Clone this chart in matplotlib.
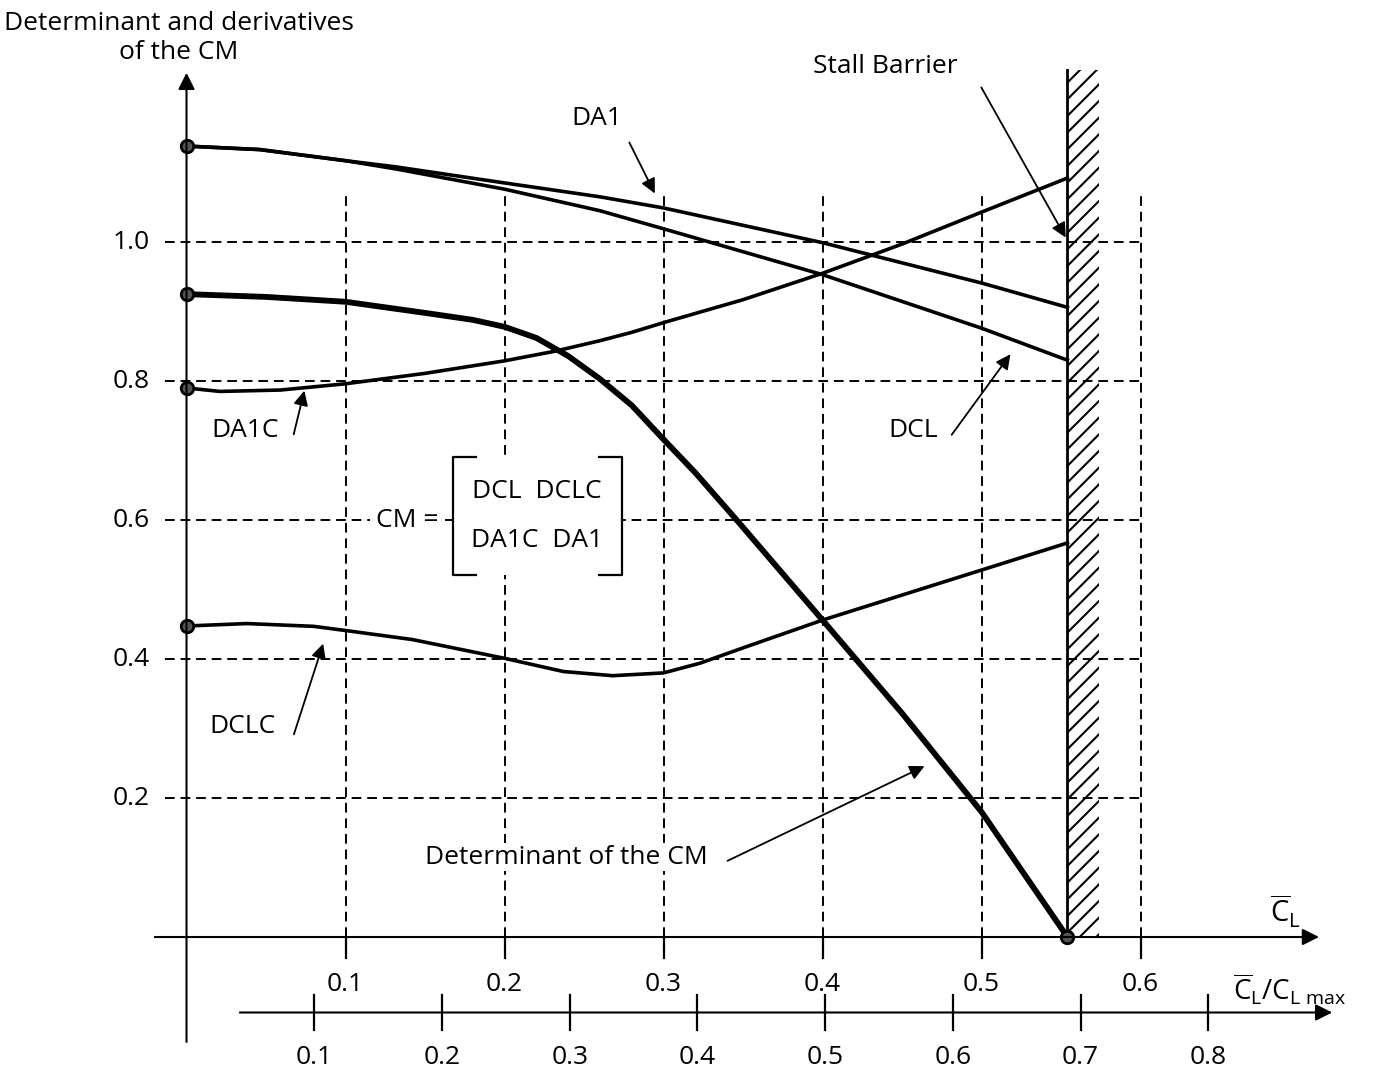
import numpy as np
import matplotlib
matplotlib.use('Agg')
import matplotlib.pyplot as plt
from matplotlib.patches import Rectangle

plt.rcParams['font.family'] = ['Open Sans', 'DejaVu Sans']
plt.rcParams['mathtext.fontset'] = 'custom'
plt.rcParams['mathtext.rm'] = 'Open Sans'
plt.rcParams['mathtext.it'] = 'Open Sans'
plt.rcParams['hatch.linewidth'] = 1.5

# curves (x = C_L bar)
da1_x = [0, 0.046, 0.1, 0.132, 0.2, 0.26, 0.3, 0.4, 0.5, 0.554]
da1_y = [1.138, 1.133, 1.117, 1.108, 1.085, 1.065, 1.049, 0.999, 0.941, 0.906]

dcl_x = [0, 0.046, 0.1, 0.132, 0.2, 0.26, 0.3, 0.4, 0.5, 0.554]
dcl_y = [1.138, 1.133, 1.117, 1.105, 1.076, 1.045, 1.019, 0.953, 0.876, 0.830]

da1c_x = [0, 0.021, 0.059, 0.1, 0.15, 0.2, 0.232, 0.26, 0.28, 0.3, 0.35, 0.4, 0.45, 0.5, 0.554]
da1c_y = [0.790, 0.785, 0.787, 0.796, 0.811, 0.829, 0.843, 0.858, 0.870, 0.884, 0.917, 0.955, 0.997, 1.043, 1.092]

det_x = [0, 0.05, 0.1, 0.15, 0.18, 0.2, 0.22, 0.24, 0.26, 0.28, 0.30, 0.32, 0.346, 0.4, 0.45, 0.5, 0.554]
det_y = [0.925, 0.921, 0.914, 0.898, 0.888, 0.878, 0.862, 0.836, 0.803, 0.765, 0.716, 0.668, 0.600, 0.456, 0.322, 0.180, 0.0]

dclc_x = [0, 0.038, 0.08, 0.1, 0.142, 0.2, 0.237, 0.268, 0.3, 0.323, 0.35, 0.4, 0.45, 0.5, 0.554]
dclc_y = [0.4475, 0.451, 0.447, 0.441, 0.428, 0.401, 0.382, 0.376, 0.380, 0.394, 0.416, 0.456, 0.492, 0.528, 0.567]

cl_ticks = [0.1, 0.2, 0.3, 0.4, 0.5, 0.6]
y_ticks = [0.2, 0.4, 0.6, 0.8, 1.0]
ratio_ticks = [0.1, 0.2, 0.3, 0.4, 0.5, 0.6, 0.7, 0.8]
cl_per_ratio = 0.8033   # C_L bar / (C_L/C_Lmax)
stall = 0.5538

fs = 19

fig = plt.figure(figsize=(13.73, 10.74), dpi=100)
ax = fig.add_axes([0, 0, 1, 1])
ax.set_xlim(-0.1173, 0.7462)
ax.set_ylim(-0.1971, 1.3482)
ax.axis('off')

dash = (0, (5, 3))
for yv in y_ticks:
    ax.plot([-0.0135, 0.6], [yv, yv], color='black', lw=1.4, ls=dash)
    ax.text(-0.023, yv, '%.1f' % yv, ha='right', va='center', fontsize=fs)
for xv in cl_ticks:
    ax.plot([xv, xv], [0, 1.0676], color='black', lw=1.4, ls=dash)
    ax.plot([xv, xv], [0, -0.030], color='black', lw=1.6)
    ax.text(xv, -0.069, '%.1f' % xv, ha='center', va='center', fontsize=fs)

# main axes with arrows
ax.annotate('', xy=(0.714, 0), xytext=(-0.0217, 0),
            arrowprops=dict(arrowstyle='-|>', color='black', lw=1.5, mutation_scale=25))
ax.annotate('', xy=(0, 1.2475), xytext=(0, -0.155),
            arrowprops=dict(arrowstyle='-|>', color='black', lw=1.5, mutation_scale=25))

# second axis C_L / C_Lmax
ax.annotate('', xy=(0.7223, -0.1086), xytext=(0.0318, -0.1086),
            arrowprops=dict(arrowstyle='-|>', color='black', lw=1.5, mutation_scale=25))
for r in ratio_ticks:
    xr = r * cl_per_ratio
    ax.plot([xr, xr], [-0.0835, -0.1338], color='black', lw=1.6)
    ax.text(xr, -0.1727, '%.1f' % r, ha='center', va='center', fontsize=fs)

# stall barrier
ax.add_patch(Rectangle((stall, 0), 0.5739 - stall, 1.2475, facecolor='white',
                       edgecolor='black', hatch='//', lw=0))
ax.plot([stall, stall], [0, 1.2475], color='black', lw=2)

# curves
ax.plot(da1_x, da1_y, color='black', lw=2.6)
ax.plot(dcl_x, dcl_y, color='black', lw=2.6)
ax.plot(da1c_x, da1c_y, color='black', lw=2.6)
ax.plot(dclc_x, dclc_y, color='black', lw=2.6)
ax.plot(det_x, det_y, color='black', lw=4.2, solid_joinstyle='round')

ax.plot([0, 0, 0, 0, stall], [da1_y[0], det_y[0], da1c_y[0], dclc_y[0], 0], 'o',
        color='black', mfc='#555555', mec='black', mew=2, ms=9)

# labels and pointers
arrow = dict(arrowstyle='-|>', color='black', lw=1.3, mutation_scale=22)
ax.text(-0.005, 1.2935, 'Determinant and derivatives\nof the CM', ha='center', va='center',
        fontsize=fs, linespacing=1.25)
ax.text(0.4393, 1.2518, 'Stall Barrier', ha='center', va='center', fontsize=fs)
ax.annotate('', xy=(0.5538, 1.0029), xytext=(0.499, 1.2259), arrowprops=arrow)
ax.text(0.2582, 1.1784, 'DA1', ha='center', va='center', fontsize=fs)
ax.annotate('', xy=(0.2953, 1.0662), xytext=(0.2777, 1.1468), arrowprops=arrow)
ax.text(0.4569, 0.7295, 'DCL', ha='center', va='center', fontsize=fs)
ax.annotate('', xy=(0.5192, 0.8417), xytext=(0.4802, 0.7194), arrowprops=arrow)
ax.text(0.0368, 0.7295, 'DA1C', ha='center', va='center', fontsize=fs)
ax.annotate('', xy=(0.0745, 0.790), xytext=(0.067, 0.7194), arrowprops=arrow)
ax.text(0.0355, 0.3022, 'DCLC', ha='center', va='center', fontsize=fs)
ax.annotate('', xy=(0.0865, 0.4259), xytext=(0.067, 0.2878), arrowprops=arrow)
ax.text(0.2387, 0.1151, 'Determinant of the CM', ha='center', va='center', fontsize=fs,
        bbox=dict(facecolor='white', edgecolor='none', pad=1))
ax.annotate('', xy=(0.4657, 0.2475), xytext=(0.3387, 0.1079), arrowprops=arrow)

# CM matrix
ax.text(0.1387, 0.5986, 'CM =', ha='center', va='center', fontsize=fs,
        bbox=dict(facecolor='white', edgecolor='none', pad=4))
ax.add_patch(Rectangle((0.1676, 0.5209), 0.2739 - 0.1676, 0.6906 - 0.5209,
                       facecolor='white', edgecolor='none', zorder=2))
ax.plot([0.1821, 0.1676, 0.1676, 0.1821], [0.6906, 0.6906, 0.5209, 0.5209],
        color='black', lw=1.6, zorder=3)
ax.plot([0.2594, 0.2739, 0.2739, 0.2594], [0.6906, 0.6906, 0.5209, 0.5209],
        color='black', lw=1.6, zorder=3)
ax.text(0.2204, 0.6403, 'DCL  DCLC', ha='center', va='center', fontsize=fs, zorder=4)
ax.text(0.2204, 0.5698, 'DA1C  DA1', ha='center', va='center', fontsize=fs, zorder=4)

# axis names
ax.text(0.691, 0.036, r'$\overline{\mathrm{C}}_{\mathrm{L}}$', ha='center', va='center', fontsize=21)
ax.text(0.694, -0.0763, r'$\overline{\mathrm{C}}_{\mathrm{L}}/\mathrm{C}_{\mathrm{L\ max}}$',
        ha='center', va='center', fontsize=20)

fig.savefig('out.png', dpi=100)
